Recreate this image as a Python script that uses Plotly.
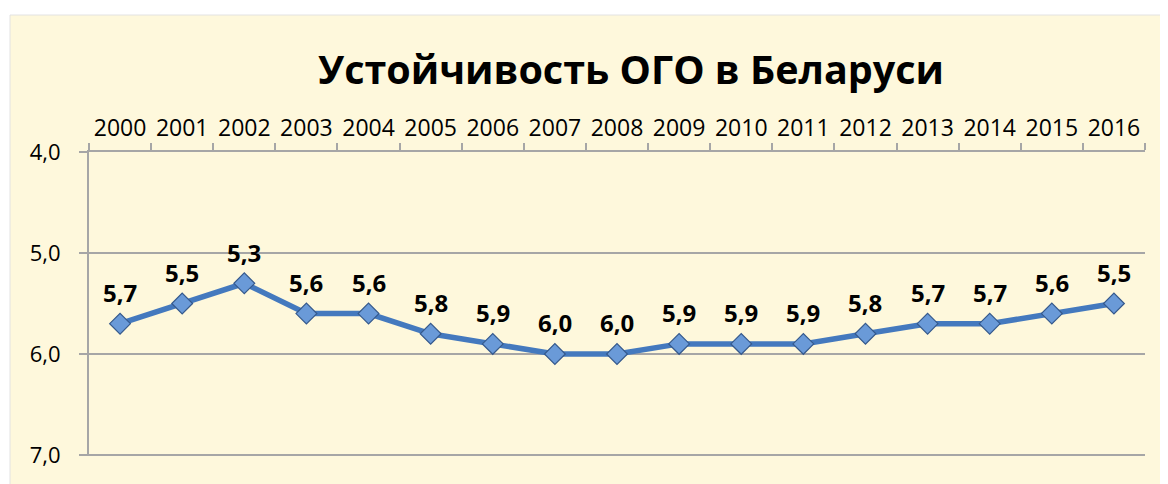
import plotly.graph_objects as go

YEARS = list(range(2000, 2017))
YEAR_LABELS = [str(y) for y in YEARS]
VALUES = [5.7, 5.5, 5.3, 5.6, 5.6, 5.8, 5.9, 6.0, 6.0, 5.9, 5.9, 5.9, 5.8, 5.7, 5.7, 5.6, 5.5]
Y_TICKS = [4.0, 5.0, 6.0, 7.0]
TITLE = "Устойчивость ОГО в Беларуси"

FONT = "Open Sans"
LINE_BLUE = "#4479BE"
GRID = "#A6A6A6"
CREAM = "#FEF8DC"

# the page body adds an 8px offset, so margins are shifted by it
PAGE_PAD = 8
L, R, T, B = 89 - PAGE_PAD, 31, 152 - PAGE_PAD, 36
PLOT_W, PLOT_H = 1168 - L - R, 484 - T - B


def fmt(v):
    return f"{v:.1f}".replace(".", ",")


fig = go.Figure()
fig.add_trace(
    go.Scatter(
        x=YEARS,
        y=VALUES,
        mode="lines+markers",
        line=dict(color=LINE_BLUE, width=5.5),
        marker=dict(
            symbol="diamond",
            size=16,
            color="#6A9AD8",
            line=dict(color="#35598C", width=1.2),
        ),
        showlegend=False,
        hoverinfo="skip",
    )
)

for yr, v in zip(YEARS, VALUES):
    fig.add_annotation(
        x=yr,
        y=v,
        text=fmt(v),
        showarrow=False,
        yshift=31,
        font=dict(family=FONT, size=24, color="#000000", weight="bold"),
    )

# cream chart panel sitting on the white page
fig.add_shape(
    type="rect",
    xref="paper",
    yref="paper",
    x0=(10 - PAGE_PAD - L) / PLOT_W,
    x1=1.1,
    y0=-0.3,
    y1=1 + (T - (15 - PAGE_PAD)) / PLOT_H,
    fillcolor=CREAM,
    line=dict(color="#E2E2E2", width=1),
    layer="below",
)

fig.update_layout(
    width=1168,
    height=484,
    margin=dict(l=L, r=R, t=T, b=B),
    paper_bgcolor="#FFFFFF",
    plot_bgcolor="rgba(0,0,0,0)",
    title=dict(
        text=f"<b>{TITLE}</b>",
        font=dict(family=FONT, size=39.5, color="#000000"),
        x=(631 - PAGE_PAD) / 1168,
        xanchor="center",
        y=1 - (70 - PAGE_PAD) / 484,
        yanchor="middle",
        yref="container",
    ),
    font=dict(family=FONT, size=22, color="#000000"),
)
fig.update_xaxes(
    side="top",
    range=[YEARS[0] - 0.5, YEARS[-1] + 0.5],
    tickvals=YEARS,
    ticktext=YEAR_LABELS,
    tickangle=0,
    ticks="",
    ticklabelstandoff=5,
    minor=dict(
        tick0=YEARS[0] - 0.5,
        dtick=1,
        ticks="outside",
        ticklen=7,
        tickwidth=2,
        tickcolor=GRID,
        showgrid=False,
    ),
    showline=True,
    linecolor=GRID,
    linewidth=2,
    showgrid=False,
    zeroline=False,
    tickfont=dict(family=FONT, size=23),
)
fig.update_yaxes(
    range=[7.01, 4],
    tickvals=Y_TICKS,
    ticktext=[fmt(t) for t in Y_TICKS],
    ticks="outside",
    ticklen=8,
    tickwidth=2,
    tickcolor=GRID,
    ticklabelstandoff=14,
    showline=True,
    linecolor=GRID,
    linewidth=2,
    showgrid=True,
    gridcolor=GRID,
    gridwidth=2,
    zeroline=False,
    tickfont=dict(family=FONT, size=22),
)

fig.write_html("out.html")
